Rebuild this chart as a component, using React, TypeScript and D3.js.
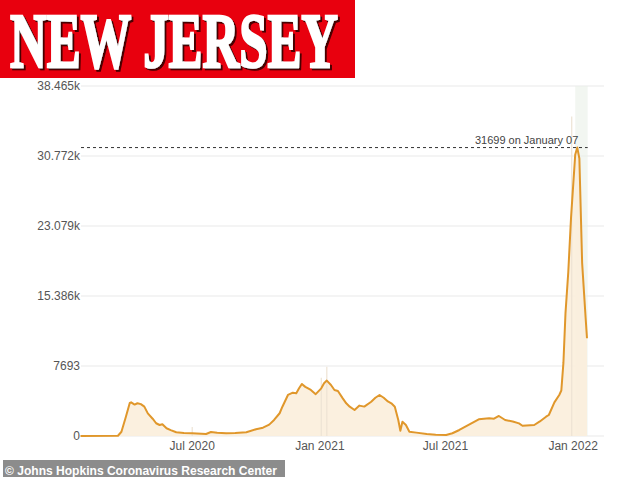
import * as d3 from "d3";

// 7-day average of daily new cases, New Jersey
const dates = [
  "2020-01-22", "2020-03-16", "2020-03-21", "2020-03-27", "2020-04-02", "2020-04-04",
  "2020-04-09", "2020-04-13", "2020-04-18", "2020-04-23", "2020-04-28", "2020-05-05",
  "2020-05-10", "2020-05-15", "2020-05-19", "2020-05-25", "2020-05-31", "2020-06-08",
  "2020-06-19", "2020-07-01", "2020-07-21", "2020-07-28", "2020-08-06", "2020-08-19",
  "2020-09-01", "2020-09-17", "2020-10-01", "2020-10-11", "2020-10-20", "2020-10-27",
  "2020-11-04", "2020-11-08", "2020-11-16", "2020-11-23", "2020-11-28", "2020-12-02",
  "2020-12-06", "2020-12-11", "2020-12-19", "2020-12-26", "2021-01-03", "2021-01-07",
  "2021-01-11", "2021-01-17", "2021-01-22", "2021-01-27", "2021-02-03", "2021-02-08",
  "2021-02-13", "2021-02-20", "2021-02-27", "2021-03-06", "2021-03-16", "2021-03-22",
  "2021-03-28", "2021-04-03", "2021-04-09", "2021-04-14", "2021-04-19", "2021-04-24",
  "2021-04-27", "2021-04-30", "2021-05-05", "2021-05-10", "2021-05-20", "2021-06-04",
  "2021-06-17", "2021-07-02", "2021-07-11", "2021-07-21", "2021-08-04", "2021-08-18",
  "2021-09-02", "2021-09-09", "2021-09-16", "2021-09-25", "2021-10-06", "2021-10-15",
  "2021-10-20", "2021-11-06", "2021-11-14", "2021-11-23", "2021-11-27", "2021-12-05",
  "2021-12-12", "2021-12-15", "2021-12-18", "2021-12-21", "2021-12-25", "2021-12-29",
  "2022-01-04", "2022-01-07", "2022-01-10", "2022-01-14", "2022-01-19", "2022-01-21",
];
const cases = [
  0, 30, 470, 2000, 3630, 3700,
  3450, 3600, 3500, 3230, 2490, 1900,
  1400, 1210, 1300, 850, 650, 410,
  320, 300, 220, 440, 350, 300,
  320, 410, 740, 910, 1250, 1760,
  2500, 3220, 4510, 4760, 4700, 5240,
  5720, 5400, 5060, 4600, 5240, 5790,
  6090, 5610, 5060, 4950, 4140, 3590,
  3220, 2860, 3340, 3230, 3770, 4200,
  4510, 4200, 3800, 3590, 3220, 1760,
  580, 1570, 1210, 470, 370, 220,
  150, 110, 300, 660, 1250, 1840,
  1950, 1900, 2200, 1760, 1600, 1390,
  1130, 1210, 1600, 2120, 2310, 3700,
  4510, 5000, 8030, 13500, 18000, 24000,
  30900, 31699, 30500, 19000, 13000, 10740,
];

// a few faint daily bars that stand out above the average
const spikeDates = ["2020-07-01", "2021-01-03", "2021-01-11", "2021-12-30"];
const spikeValues = [1000, 6400, 7600, 35100];

const yTicks = [0, 7693, 15386, 23079, 30772, 38465];
const yTickLabels = ["0", "7693", "15.386k", "23.079k", "30.772k", "38.465k"];
const xTicks = ["2020-07-01", "2021-01-01", "2021-07-01", "2022-01-01"];
const xTickLabels = ["Jul 2020", "Jan 2021", "Jul 2021", "Jan 2022"];

const bandStart = "2022-01-04";
const bandEnd = "2022-01-22";

const parse = d3.utcParse("%Y-%m-%d");
const monthNames = ["January", "February", "March", "April", "May", "June", "July",
  "August", "September", "October", "November", "December"];

export default function App() {
  const W = 634;
  const H = 477;
  const left = 81;
  const right = 604;

  const data = dates.map((d, i) => ({ date: parse(d) as Date, v: cases[i] }));

  const x = d3.scaleUtc()
    .domain([parse(dates[0]) as Date, parse(dates[dates.length - 1]) as Date])
    .range([80.5, 587]);
  const y = d3.scaleLinear().domain([0, 38465]).range([436, 86]);

  const line = d3.line<{ date: Date; v: number }>()
    .x(d => x(d.date))
    .y(d => y(d.v));
  const area = d3.area<{ date: Date; v: number }>()
    .x(d => x(d.date))
    .y0(y(0))
    .y1(d => y(d.v));

  const peak = data.reduce((a, b) => (b.v > a.v ? b : a));
  const peakLabel = `${peak.v} on ${monthNames[peak.date.getUTCMonth()]} ${String(peak.date.getUTCDate()).padStart(2, "0")}`;

  const bx0 = x(parse(bandStart) as Date);
  const bx1 = x(parse(bandEnd) as Date);

  const font = "'Liberation Sans', Arial, sans-serif";

  return (
    <svg width={W} height={H} style={{ position: "absolute", left: 0, top: 0, background: "#fff" }}>
      <defs>
        <filter id="title-shadow" x="-5%" y="-10%" width="115%" height="130%">
          <feDropShadow dx={2} dy={2} stdDeviation={0.6} floodColor="#4a0005" floodOpacity={1} />
        </filter>
      </defs>

      {/* gridlines */}
      {yTicks.map(t => (
        <line key={t} x1={left} x2={right} y1={y(t)} y2={y(t)} stroke="#e9e9e9" strokeWidth={1} />
      ))}

      {/* highlighted recent period */}
      <rect x={bx0} y={y(38465)} width={bx1 - bx0} height={y(0) - y(38465)} fill="#e9f0e7" opacity={0.6} />

      {/* area and faint daily bars */}
      <path d={area(data) ?? ""} fill="#fbeedb" opacity={0.9} />
      {spikeDates.map((d, i) => (
        <line key={d} x1={x(parse(d) as Date)} x2={x(parse(d) as Date)} y1={y(0)} y2={y(spikeValues[i])}
          stroke="#ede3d4" strokeWidth={1.2} />
      ))}

      <path d={line(data) ?? ""} fill="none" stroke="#e0972b" strokeWidth={2} strokeLinejoin="round" />

      {/* peak marker */}
      <line x1={left} x2={bx1} y1={y(peak.v)} y2={y(peak.v)} stroke="#333" strokeWidth={1} strokeDasharray="3,3" />
      <text x={x(peak.date) + 1} y={y(peak.v) - 4} textAnchor="end" fontFamily={font} fontSize={11} fill="#444">
        {peakLabel}
      </text>

      {/* y tick labels */}
      {yTicks.map((t, i) => (
        <text key={t} x={80} y={y(t)} dy="0.35em" textAnchor="end" fontFamily={font} fontSize={12} fill="#555">
          {yTickLabels[i]}
        </text>
      ))}

      {/* x tick labels */}
      {xTicks.map((t, i) => (
        <text key={t} x={x(parse(t) as Date)} y={450} textAnchor="middle" fontFamily={font} fontSize={12} fill="#555">
          {xTickLabels[i]}
        </text>
      ))}

      {/* title banner */}
      <rect x={0} y={0} width={355} height={78} fill="#e8000e" />
      <text x={10} y={67} textLength={328} lengthAdjust="spacingAndGlyphs"
        fontFamily="'Liberation Serif', 'Times New Roman', serif" fontWeight="bold" fontSize={78}
        fill="#fff" stroke="#fff" strokeWidth={2.5} filter="url(#title-shadow)">
        NEW JERSEY
      </text>

      {/* credit */}
      <rect x={3} y={460} width={282} height={17} fill="#8c8c8c" />
      <text x={5} y={475} textLength={272} lengthAdjust="spacingAndGlyphs" fontFamily={font} fontWeight="bold" fontSize={13} fill="#fff">
        © Johns Hopkins Coronavirus Research Center
      </text>
    </svg>
  );
}
